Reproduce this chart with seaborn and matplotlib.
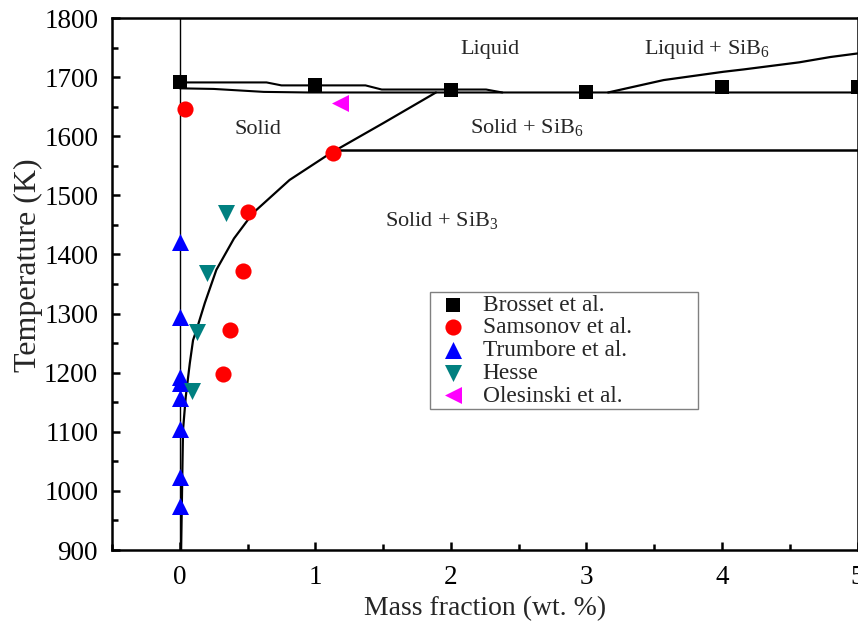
import matplotlib
matplotlib.use("Agg")
import matplotlib.pyplot as plt
import seaborn as sns
from matplotlib.ticker import MultipleLocator

# Experimental solubility data of boron in silicon
brosset_x = [0, 1, 2, 3, 4, 5]
brosset_T = [1691, 1686, 1679, 1674, 1683, 1683]
samsonov_x = [0.04, 1.13, 0.50, 0.47, 0.37, 0.32]
samsonov_T = [1646, 1572, 1471, 1372, 1272, 1197]
trumbore_x = [0, 0, 0, 0, 0, 0, 0, 0]
trumbore_T = [1421, 1295, 1193, 1183, 1157, 1104, 1024, 974]
hesse_x = [0.34, 0.20, 0.13, 0.09]
hesse_T = [1470, 1368, 1269, 1169]
olesinski_x = [1.18]
olesinski_T = [1657]

# Calculated phase boundaries
liquidus_x = [0, 0.64, 0.75, 1.37, 1.49, 2.26, 2.38]
liquidus_T = [1691, 1691, 1686, 1686, 1679, 1679, 1674]
solidus_x = [0, 0.25, 0.62, 0.95, 5.0]
solidus_T = [1681, 1680, 1675, 1674, 1674]
sib6_liq_x = [3.16, 3.57, 4.01, 4.16, 4.57, 4.80, 5.0]
sib6_liq_T = [1674, 1695, 1709, 1713, 1725, 1734, 1740]
solvus_x = [0.01, 0.02, 0.024, 0.044, 0.074, 0.098, 0.123, 0.185, 0.27,
            0.40, 0.54, 0.81, 1.11, 1.50, 1.89]
solvus_T = [900, 1047, 1103, 1159, 1216, 1255, 1272, 1318, 1374,
            1427, 1470, 1526, 1571, 1622, 1674]
sib3_x = [1.13, 5.0]
sib3_T = [1577, 1577]

region_labels = ["Liquid", "Liquid + SiB$\\mathregular{_6}$", "Solid",
                 "Solid + SiB$\\mathregular{_6}$", "Solid + SiB$\\mathregular{_3}$"]
region_x = [2.29, 3.89, 0.58, 2.56, 1.93]
region_T = [1746, 1746, 1612, 1615, 1457]

sns.set_style("white")
plt.rcParams["font.family"] = ["Liberation Serif", "DejaVu Serif"]
plt.rcParams["mathtext.fontset"] = "custom"
plt.rcParams["mathtext.rm"] = "Liberation Serif"

fig = plt.figure(figsize=(8.58, 6.21), dpi=100)
ax = fig.add_axes([112 / 858, 1 - 550 / 621, 745.5 / 858, 532 / 621])

line_kw = dict(color="black", sort=False, estimator=None, ax=ax, legend=False)
ax.axvline(0, color="black", lw=1.0, zorder=1)
sns.lineplot(x=liquidus_x, y=liquidus_T, lw=1.5, **line_kw)
sns.lineplot(x=solidus_x, y=solidus_T, lw=1.5, **line_kw)
sns.lineplot(x=sib6_liq_x, y=sib6_liq_T, lw=1.6, **line_kw)
sns.lineplot(x=solvus_x, y=solvus_T, lw=1.6, **line_kw)
sns.lineplot(x=sib3_x, y=sib3_T, lw=1.8, **line_kw)

series = [
    (brosset_x, brosset_T, "s", "black", 100, "Brosset et al."),
    (samsonov_x, samsonov_T, "o", "#ff0000", 135, "Samsonov et al."),
    (trumbore_x, trumbore_T, "^", "#0000ff", 150, "Trumbore et al."),
    (hesse_x, hesse_T, "v", "#008080", 150, "Hesse"),
    (olesinski_x, olesinski_T, "<", "#ff00ff", 150, "Olesinski et al."),
]
for xs, ts, mk, col, size, lab in series:
    sns.scatterplot(x=xs, y=ts, marker=mk, color=col, s=size, linewidth=0,
                    label=lab, ax=ax, zorder=3)

for lab, xv, tv in zip(region_labels, region_x, region_T):
    ax.text(xv, tv, lab, ha="center", va="center", fontsize=16)

ax.set_xlim(-0.5, 5.0)
ax.set_ylim(900, 1800)
ax.xaxis.set_major_locator(MultipleLocator(1))
ax.xaxis.set_minor_locator(MultipleLocator(0.5))
ax.yaxis.set_major_locator(MultipleLocator(100))
ax.yaxis.set_minor_locator(MultipleLocator(50))
ax.tick_params(which="both", direction="in", width=1.8, colors="black",
               labelsize=19.5, bottom=True, left=True, top=False, right=False)
ax.tick_params(which="major", length=6)
ax.tick_params(which="minor", length=4)
ax.tick_params(axis="x", pad=11)
ax.tick_params(axis="y", pad=10)
for side in ["left", "bottom", "top", "right"]:
    ax.spines[side].set_linewidth(1.8)
    ax.spines[side].set_color("black")

ax.set_xlabel("Mass fraction (wt. %)", fontsize=20, labelpad=4)
ax.set_ylabel("Temperature (K)", fontsize=23)
ax.yaxis.set_label_coords(-0.092, 0.536)

ax.legend(loc="upper left", bbox_to_anchor=(0.427, 0.2575, 0.359, 0.2275),
          mode="expand", frameon=True, fancybox=False, edgecolor="gray",
          framealpha=1, fontsize=16.8, labelspacing=0.06, handletextpad=0.4,
          borderpad=0.1, handlelength=1.75, borderaxespad=0)

fig.savefig("out.png", dpi=100)
